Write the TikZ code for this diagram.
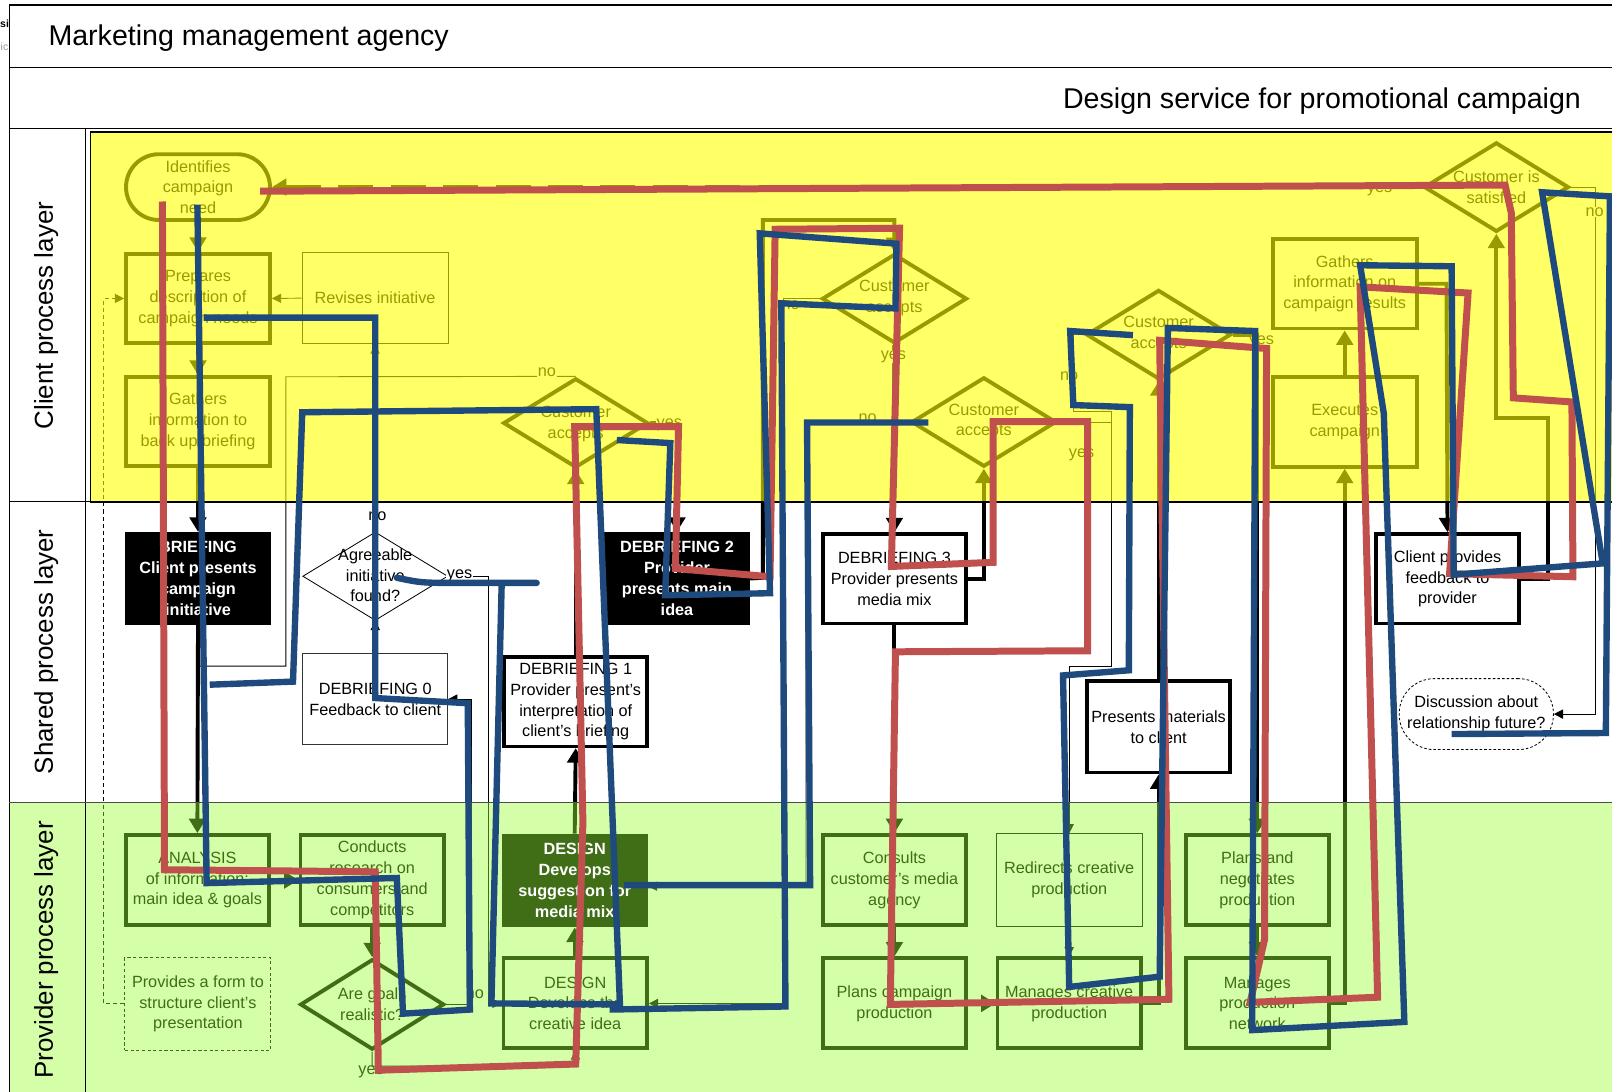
\documentclass[tikz,border=0pt]{standalone}
\usepackage{fontspec}
\setmainfont{Liberation Sans}
\usetikzlibrary{arrows.meta,shapes.geometric}

\definecolor{olv}{RGB}{153,153,0}
\definecolor{yel}{RGB}{255,255,102}
\definecolor{lgr}{RGB}{212,255,168}
\definecolor{dgr}{RGB}{64,110,22}
\definecolor{rd}{RGB}{192,80,77}
\definecolor{bl}{RGB}{31,74,126}

\newcommand\nodefnt{\fontsize{15.8}{20.3}\selectfont}
\newcommand\titlefnt{\fontsize{27.8}{33}\selectfont}
\newcommand\lanefnt{\fontsize{25.2}{30}\selectfont}

% all process connectors; the colour comes from the lane they are drawn in
\newcommand\lanelinks{%
  \draw[thk] (id.south) -- (prep.north);
  \draw[thk] (prep.south) -- (gath.north);
  \draw[thk] (gath.south) -- (brief.north);
  \draw[thk] (brief.south) -- (ana.north);
  \draw[thk] (ana.east) -- (cond.west);
  \draw[thk] (cond.south) -- (goals.north);
  \draw[thn] (goals.east) -- (459,977) -- (459,680) -- (deb0.east);
  \draw[thn] (goals.south) -- (362,1037) -- (560,1037) -- (dcre.south);
  \draw[thn] (agr.east) -- (475,560.5) -- (475,976) -- (dcre.west);
  \draw[thn] (agr.north) -- (rev.south);
  \draw[thn] (deb0.north) -- (agr.south);
  \draw[thn] (rev.west) -- (prep.east);
  \draw[thn, dash pattern=on 4pt off 3pt] (form.west) -- (101,976.5) -- (101,290.3) -- (prep.west);
  \draw[thnn] (d1.north) -- (278,366.5) -- (278,648) -- (194,648);
  \draw[thk] (deb1.north) -- (d1.south);
  \draw[thk] (dsug.north) -- (deb1.south);
  \draw[thk] (dcre.north) -- (dsug.south);
  \draw[thk] (d1.east) -- (658.5,411.5) -- (deb2.north);
  \draw[thk] (deb2.east) -- (742,562) -- (742,214) -- (870,214) -- (d2.north);
  \draw[thn] (d2.west) -- (762,290.5) -- (762,976) -- (dcre.east);
  \draw[thk] (d2.south) -- (deb3.north);
  \draw[thk] (deb3.east) -- (957,563) -- (d3.south);
  \draw[thk] (deb3.south) -- (cons.north);
  \draw[thn] (d3.west) -- (784,410.5) -- (784,862) -- (766,862)
        arc[start angle=0, end angle=180, radius=4pt] -- ([yshift=-5.5pt]dsug.east);
  \draw[thk] (cons.south) -- (plan.north);
  \draw[thk] (plan.east) -- (mcre.west);
  \draw[thn] (redir.south) -- (mcre.north);
  \draw[thk] (mcre.east) -- (1127,976) -- (pres.south);
  \draw[thk] (pres.north) -- (d4.south);
  \draw[thn] (d4.west) -- (1044,325.5) -- (1044,400) -- (1081,400) -- (1081,648) -- (1040,648) -- (redir.north);
  \draw[thnn] (d3.east) -- (1081,410.5);
  \draw[thk] (d4.east) -- (1223,325.5) -- (pneg.north);
  \draw[thk] (pneg.south) -- (mnet.north);
  \draw[thk] (mnet.east) -- (1308,976) -- (exe.south);
  \draw[thk] (exe.north) -- (gres.south);
  \draw[thk] (gres.east) -- (1407,276) -- (cpf.north);
  \draw[thk] (cpf.east) -- (1506,563) -- (1506,407) -- (1455.5,407) -- (d5.south);
  \draw[thk, dash pattern=on 34pt off 17pt] (d5.west) -- (id.east);
  \draw[thn] (d5.east) -- (1552,182) -- (1552,694.6) -- (disc.east);
}

\begin{document}
\begin{tikzpicture}[x=1pt,y=-1pt,
  base/.style={align=center, font=\nodefnt, inner sep=0pt},
  cbox/.style={base, rectangle, draw=olv, text=olv, line width=3.8pt, minimum width=140pt, minimum height=87pt},
  cthin/.style={base, rectangle, draw=olv, text=olv, line width=0.9pt, minimum width=142pt, minimum height=89pt},
  cdia/.style={diamond, draw=olv, line width=3.8pt, minimum width=141pt, minimum height=87pt, inner sep=0pt},
  ctxt/.style={base, text=olv},
  sblack/.style={base, rectangle, fill=black, text=white, font=\nodefnt\bfseries, minimum width=142pt, minimum height=90.5pt},
  sbox/.style={base, rectangle, draw=black, line width=3.6pt, minimum width=139pt, minimum height=87pt},
  sthin/.style={base, rectangle, draw=black!80, line width=0.9pt, minimum width=141pt, minimum height=89pt},
  sdia/.style={diamond, draw=black, line width=0.8pt, minimum width=141pt, minimum height=86pt, inner sep=0pt},
  sdash/.style={base, rectangle, draw=black, line width=0.8pt, dash pattern=on 2.5pt off 2pt, rounded corners=34pt, minimum width=150pt, minimum height=69pt},
  stxt/.style={base, text=black},
  pbox/.style={base, rectangle, draw=dgr, text=dgr, line width=3.8pt, minimum width=139.5pt, minimum height=87.5pt},
  pthin/.style={base, rectangle, draw=dgr, text=dgr, line width=0.9pt, minimum width=142pt, minimum height=90pt},
  pdash/.style={pthin, dash pattern=on 3pt off 2.5pt},
  pfill/.style={base, rectangle, fill=dgr, text=white, font=\nodefnt\bfseries, minimum width=142pt, minimum height=91pt},
  pdia/.style={diamond, draw=dgr, line width=3.8pt, minimum width=140pt, minimum height=88pt, inner sep=0pt},
  ptxt/.style={base, text=dgr},
  thk/.style={line width=3.8pt, -{Triangle[length=14pt,width=16pt]}},
  thn/.style={line width=0.9pt, -{Triangle[length=9pt,width=9pt]}},
  thnn/.style={line width=0.9pt},
  lbl/.style={font=\nodefnt, inner sep=0.6pt},
  rline/.style={draw=rd, line width=6.8pt},
  bline/.style={draw=bl, line width=6.2pt}]

\useasboundingbox (0,0) rectangle (1568,1062);
\fill[white] (0,0) rectangle (1568,1062);

% small marks left of the frame
\node[anchor=base west, font=\fontsize{10.2}{12}\selectfont\bfseries, inner sep=0pt] (cutA) at (0,27) {si};
\node[anchor=base west, font=\fontsize{10.2}{12}\selectfont, text=black!40, inner sep=0pt] (cutB) at (0.5,49) {ic};

% lanes and frame
\fill[lgr] (9,781) rectangle (1568,1062);
\fill[yel] (88,128.5) rectangle (1568,488);
\draw[line width=1.8pt] (1570,128.5) -- (88,128.5) -- (88,488) -- (1570,488);
\draw[line width=1.3pt] (9,1064) -- (9,5) -- (1570,5);
\draw[line width=1pt] (9,66) -- (1570,66);
\draw[line width=1.6pt] (9,125) -- (1570,125);
\draw[line width=1pt] (83,125) -- (83,1064);
\draw[line width=1pt] (9,488) -- (88,488);
\draw[line width=1pt, black!70] (9,781) -- (1570,781);

% headings
\node[anchor=base west, font=\titlefnt, inner sep=0pt] (agency) at (47,43.8) {Marketing management agency};
\node[anchor=base east, font=\titlefnt, inner sep=0pt] (service) at (1538,105.5) {Design service for promotional campaign};
\node[rotate=90, font=\lanefnt, inner sep=0pt] (laneC) at (45,307) {Client process layer};
\node[rotate=90, font=\lanefnt, inner sep=0pt] (laneS) at (45,634) {Shared process layer};
\node[rotate=90, font=\lanefnt, inner sep=0pt] (laneP) at (45,924) {Provider process layer};

% client process layer
\node[cbox, rounded corners=32pt, minimum height=64pt] (id) at (192.6,182) {Identifies\\campaign\\need};
\node[cbox] (prep) at (192.6,290.3) {Prepares\\description of\\campaign needs};
\node[cthin] (rev) at (364.8,290) {Revises initiative};
\node[cbox] (gath) at (192.6,410) {Gathers\\information to\\back up briefing};
\node[cdia] (d1) at (560,411.5) {};
\node[ctxt] (d1t) at (560,412.5) {Customer\\accepts};
\node[cdia] (d2) at (870,290.5) {};
\node[ctxt] (d2t) at (870,290) {Customer\\accepts};
\node[cdia] (d3) at (957,410.5) {};
\node[ctxt] (d3t) at (957,410) {Customer\\accepts};
\node[cdia] (d4) at (1127,325.5) {};
\node[ctxt] (d4t) at (1127,325) {Customer\\accepts};
\node[cbox] (gres) at (1308,276) {Gathers\\information on\\campaign results};
\node[cbox] (exe) at (1308,410.5) {Executes\\campaign};
\node[cdia] (d5) at (1455.5,182) {};
\node[ctxt] (d5t) at (1455.5,182) {Customer is\\satisfied};

% shared process layer
\node[sblack] (brief) at (192.6,562.7) {BRIEFING\\Client presents\\campaign\\initiative};
\node[sdia] (agr) at (365,560.5) {};
\node[stxt] (agrt) at (365,559.5) {Agreeable\\initiative\\found?};
\node[sthin] (deb0) at (365,680) {DEBRIEFING 0\\Feedback to client};
\node[sbox] (deb1) at (560,682.5) {DEBRIEFING 1\\Provider present’s\\interpretation of\\client’s briefing};
\node[sblack] (deb2) at (658.5,562.7) {DEBRIEFING 2\\Provider\\presents main\\idea};
\node[sbox] (deb3) at (870,563) {DEBRIEFING 3\\Provider presents\\media mix};
\node[sbox, minimum height=89pt] (pres) at (1127,707) {Presents materials\\to client};
\node[sbox] (cpf) at (1408,563) {Client provides\\feedback to\\provider};
\node[sdash] (disc) at (1436,694.6) {Discussion about\\relationship future?};

% provider process layer
\node[pbox] (ana) at (192,856) {ANALYSIS\\of information:\\main idea \& goals};
\node[pdash] (form) at (192.5,976.5) {Provides a form to\\structure client’s\\presentation};
\node[pbox] (cond) at (362,856) {Conducts\\research on\\consumers and\\competitors};
\node[pdia] (goals) at (362,977) {};
\node[ptxt] (goalst) at (362,977) {Are goals\\realistic?};
\node[pfill] (dsug) at (559,856.5) {DESIGN\\Develops\\suggestion for\\media mix};
\node[pbox] (dcre) at (559.5,976) {DESIGN\\Develops the\\creative idea};
\node[pbox] (cons) at (870,856) {Consults\\customer’s media\\agency};
\node[pbox] (plan) at (870,976) {Plans campaign\\production};
\node[pthin] (redir) at (1040,856) {Redirects creative\\production};
\node[pbox] (mcre) at (1040,976) {Manages creative\\production};
\node[pbox] (pneg) at (1223,856) {Plans and\\negotiates\\production};
\node[pbox] (mnet) at (1223,976) {Manages\\production\\network};

% connectors, coloured lane by lane
\begin{scope}
  \clip (88,128.5) rectangle (1568,488);
  \begin{scope}[color=olv] \lanelinks \end{scope}
\end{scope}
\begin{scope}
  \clip (83,488) rectangle (1568,781);
  \begin{scope}[color=black] \lanelinks \end{scope}
\end{scope}
\begin{scope}
  \clip (83,781) rectangle (1568,1062);
  \begin{scope}[color=dgr] \lanelinks \end{scope}
\end{scope}

% branch labels
\node[lbl, text=olv, fill=yel] (l1n) at (532,362) {no};
\node[lbl, text=olv, fill=yel] (l1y) at (651,413) {yes};
\node[lbl, text=olv, fill=yel] (l2n) at (769,297) {no};
\node[lbl, text=olv, fill=yel] (l2y) at (869,347) {yes};
\node[lbl, text=olv, fill=yel] (l3n) at (844,407) {no};
\node[lbl, text=olv] (l3y) at (1052,442) {yes};
\node[lbl, text=olv, fill=yel] (l4n) at (1040,366) {no};
\node[lbl, text=olv] (l4y) at (1227,332) {yes};
\node[lbl, text=olv] (l5y) at (1342,185) {yes};
\node[lbl, text=olv, fill=yel] (l5n) at (1551,206) {no};
\node[lbl, fill=white] (lan) at (367,502) {no};
\node[lbl, fill=white] (lay) at (447,560) {yes};
\node[lbl, text=dgr, fill=lgr] (lgn) at (462,967) {no};
\node[lbl, text=dgr] (lgy) at (361,1043) {yes};

% red trace
\draw[rline] (253,186) -- (1464,180) -- (1470,207) -- (1472,387) -- (1529,391) -- (1530,561)
  -- (1410,558) -- (1428,285) -- (1323,279) -- (1340,970) -- (1216,975) -- (1230,914)
  -- (1232,339) -- (1128,331) -- (1137,972) -- (866,977) -- (871,634) -- (1058,633)
  -- (1058,410) -- (966,410) -- (966,547) -- (867,551) -- (875,222) -- (754,223)
  -- (749,561) -- (657,553) -- (660,415) -- (559,415) -- (567,800) -- (560,1035)
  -- (368,1041) -- (365,848) -- (160,846) -- (158,196);

% blue trace
\draw[bline] (192,199) -- (201,859) -- (386,854) -- (392,986) -- (457,982) -- (455,684)
  -- (365,679) -- (365,309) -- (198,309);
\draw[bline] (204,666) -- (285,663) -- (294,401) -- (580,398) -- (603,977) -- (478,976) -- (488,567);
\draw[bline, line cap=round] (386,562) .. controls (410,567) .. (450,567) -- (522,567);
\draw[bline] (600,428) -- (652,431) -- (647,579) -- (749,577) -- (739,227) -- (872,237)
  -- (871,300) -- (760,295) -- (764,979) -- (593,982);
\draw[bline] (903,411) -- (785,411) -- (788,861) -- (607,861);
\draw[bline] (1102,326) -- (1041,322) -- (1044,394) -- (1099,396) -- (1098,652) -- (1034,657)
  -- (1040,960) -- (1128,950) -- (1136,319) -- (1221,322) -- (1218,1002) -- (1366,994)
  -- (1346,402) -- (1323,258) -- (1412,259) -- (1414,559) -- (1559,548) -- (1500,187)
  -- (1566,191) -- (1562,713) -- (1412,714);
\end{tikzpicture}
\end{document}
